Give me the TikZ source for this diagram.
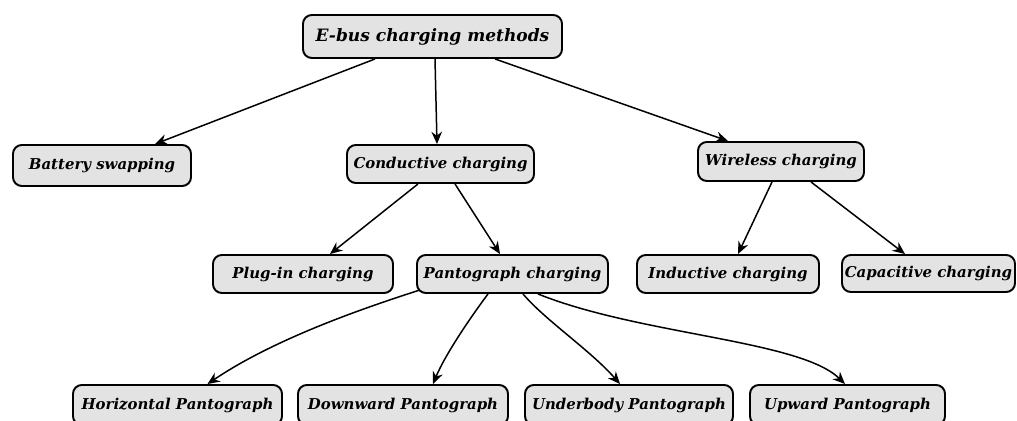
\documentclass[tikz,border=0pt]{standalone}
\usepackage{fontspec}
\setmainfont{DejaVu Serif}
\usetikzlibrary{arrows.meta,calc}
\definecolor{boxgray}{HTML}{E3E3E3}
\tikzset{
  box/.style={draw=black, line width=1.1pt, rounded corners=5pt, fill=boxgray,
    inner sep=0pt, font=\fontsize{8.5}{10}\selectfont\bfseries\itshape},
  bigbox/.style={box, font=\fontsize{9.7}{12}\selectfont\bfseries\itshape},
  conn/.style={line width=0.85pt, -{Stealth[length=7pt,width=6pt]}}
}
\begin{document}
\begin{tikzpicture}[x=0.02cm,y=-0.02cm]
\useasboundingbox (0,0) rectangle (1017,421);
\clip (0,0) rectangle (1017,421);
\node[bigbox, minimum width=259*0.02cm, minimum height=43*0.02cm] (top) at (432.5,36.5) {E-bus charging methods};
\node[box, minimum width=178*0.02cm, minimum height=41*0.02cm] (bat) at (102,165.5) {Battery swapping};
\node[box, minimum width=187*0.02cm, minimum height=38*0.02cm] (cond) at (440.5,164) {Conductive charging};
\node[box, minimum width=166*0.02cm, minimum height=39*0.02cm] (wir) at (781,161.5) {Wireless charging};
\node[box, minimum width=180*0.02cm, minimum height=38*0.02cm] (plug) at (303,274) {Plug-in charging};
\node[box, minimum width=191*0.02cm, minimum height=38*0.02cm] (pant) at (512.5,274) {Pantograph charging};
\node[box, minimum width=182*0.02cm, minimum height=38*0.02cm] (ind) at (728,274) {Inductive charging};
\node[box, minimum width=173*0.02cm, minimum height=37*0.02cm] (cap) at (928.5,273.5) {Capacitive charging};
\node[box, minimum width=209*0.02cm, minimum height=40*0.02cm] (hor) at (177.5,405) {Horizontal Pantograph};
\node[box, minimum width=210*0.02cm, minimum height=40*0.02cm] (down) at (403,405) {Downward Pantograph};
\node[box, minimum width=208*0.02cm, minimum height=40*0.02cm] (under) at (629,405) {Underbody Pantograph};
\node[box, minimum width=195*0.02cm, minimum height=40*0.02cm] (up) at (847.5,405) {Upward Pantograph};

\draw[conn] ($(top.south)+(-57.5,0)$) -- ($(bat.north)+(53,0)$);
\draw[conn] ($(top.south)+(2.5,0)$) -- ($(cond.north)+(-3.5,0)$);
\draw[conn] ($(top.south)+(62.5,0)$) -- ($(wir.north)+(-53,0)$);
\draw[conn] ($(cond.south)+(-22.5,0)$) -- ($(plug.north)+(27,0)$);
\draw[conn] ($(cond.south)+(14.5,0)$) -- ($(pant.north)+(-12.5,0)$);
\draw[conn] ($(wir.south)+(-9,0)$) -- ($(ind.north)+(10,0)$);
\draw[conn] ($(wir.south)+(30,0)$) -- ($(cap.north)+(-23.5,0)$);
\draw[conn] ($(pant.south)+(-92.5,-4)$) .. controls (380,303) and (280,335) .. ($(hor.north)+(30,0)$);
\draw[conn] ($(pant.south)+(-24.5,0)$) .. controls (470,318) and (445,355) .. ($(down.north)+(30,0)$);
\draw[conn] ($(pant.south)+(10.5,0)$) .. controls (545,320) and (590,350) .. ($(under.north)+(-9,0)$);
\draw[conn] ($(pant.south)+(25.5,0)$) .. controls (640,335) and (800,340) .. ($(up.north)+(-2.5,0)$);
\end{tikzpicture}
\end{document}
